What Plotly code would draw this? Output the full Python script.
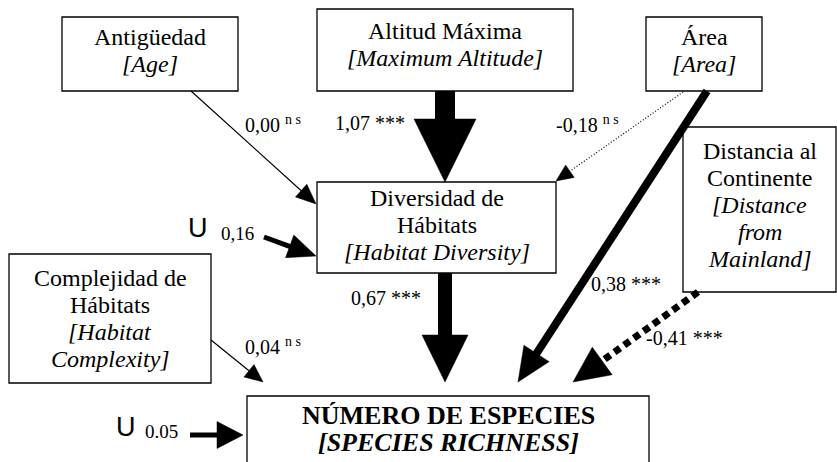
import numpy as np
import plotly.graph_objects as go

# ---------------- data ----------------
var_es = ["Antigüedad", "Altitud Máxima", "Área", "Distancia al<br>Continente",
          "Diversidad de<br>Hábitats", "Complejidad de<br>Hábitats", "NÚMERO DE ESPECIES"]
var_en = ["[Age]", "[Maximum Altitude]", "[Area]", "[Distance<br>from<br>Mainland]",
          "[Habitat Diversity]", "[Habitat<br>Complexity]", "[SPECIES RICHNESS]"]

path_coef = [0.00, 1.07, -0.18, 0.38, -0.41, 0.67, 0.04]
path_sig = ["n s", "***", "n s", "***", "***", "***", "n s"]
resid_coef = [0.16, 0.05]
resid_sep = [",", "."]

# ---------------- layout (positions / styles) ----------------
W, H = 837, 462
boxes = [  # x0, x1, y0, y1, first line y
    (62, 238, 17, 91, 37),
    (317, 573, 9, 91, 31),
    (646, 762, 17, 91, 37),
    (683, 836, 127, 292, 151),
    (317, 556, 182, 273, 198),
    (9, 211, 254, 383, 278),
    (247, 649, 396, 475, 415),
]
box_font = [24, 24, 24, 24, 24, 24, 26]
line_gap = 27
# arrows: start, tip, shaft width, head length, head width, dash
arrows = [
    ((191, 91), (316, 204), 1.2, 20, 17, None),
    ((445, 91), (445, 182), 20, 63, 62, None),
    ((683, 92), (556, 181), 1.2, 17, 15, "1px,2px"),
    ((707, 91), (518, 382), 8, 34, 30, None),
    ((698, 292), (573, 382), 7, 36, 34, "7px,5px"),
    ((445, 273), (445, 382), 14, 47, 46, None),
    ((211, 340), (263, 382), 1.2, 18, 16, None),
]
resid_arrows = [
    ((264, 237), (316, 256), 5, 28, 24, None),
    ((190, 435), (243, 435), 5, 26, 27, None),
]
coef_pos = [(273, 124), (370, 123), (587, 124), (626, 284), (684, 338), (386, 298), (273, 346)]
resid_u_pos = [(198, 228), (126, 427)]
resid_val_pos = [(237, 233), (161, 431)]

SERIF = "Liberation Serif, Times New Roman, serif"
SANS = "Liberation Sans, Arial, sans-serif"

fig = go.Figure()


def draw_arrow(p0, p1, sw, hl, hw, dash):
    p0 = np.array(p0, float)
    p1 = np.array(p1, float)
    d = p1 - p0
    u = d / np.hypot(*d)
    n = np.array([-u[1], u[0]])
    base = p1 - hl * u
    shaft_end = p1 - (hl - 2) * u
    fig.add_trace(go.Scatter(x=[p0[0], shaft_end[0]], y=[p0[1], shaft_end[1]], mode="lines",
                             line=dict(color="black", width=sw, dash=dash or "solid"),
                             hoverinfo="skip", showlegend=False))
    tri = [p1, base + n * hw / 2, base - n * hw / 2, p1]
    fig.add_trace(go.Scatter(x=[p[0] for p in tri], y=[p[1] for p in tri], mode="lines",
                             fill="toself", fillcolor="black", line=dict(color="black", width=0.5),
                             hoverinfo="skip", showlegend=False))


for a in arrows + resid_arrows:
    draw_arrow(*a)

shapes = []
annotations = []
for i, (x0, x1, y0, y1, ty) in enumerate(boxes):
    shapes.append(dict(type="rect", xref="x", yref="y", x0=x0, x1=x1, y0=y0, y1=y1,
                       line=dict(color="black", width=1.3), fillcolor="rgba(0,0,0,0)"))
    bold = i == len(boxes) - 1
    lines = [(t, False) for t in var_es[i].split("<br>")] + [(t, True) for t in var_en[i].split("<br>")]
    for k, (t, it) in enumerate(lines):
        txt = t
        if bold:
            txt = "<b>" + txt + "</b>"
        if it:
            txt = "<i>" + txt + "</i>"
        annotations.append(dict(x=(x0 + x1) / 2, y=ty + k * line_gap, text=txt, showarrow=False,
                                xref="x", yref="y", xanchor="center", yanchor="middle",
                                font=dict(family=SERIF, size=box_font[i], color="black")))


def fmt(v, sep=","):
    return f"{v:.2f}".replace(".", sep)


for (x, y), c, s in zip(coef_pos, path_coef, path_sig):
    if s == "n s":
        txt = fmt(c) + " <sup>n s</sup>"
    else:
        txt = fmt(c) + " " + s
    annotations.append(dict(x=x, y=y, text=txt, showarrow=False, xref="x", yref="y",
                            xanchor="center", yanchor="middle",
                            font=dict(family=SERIF, size=20, color="black")))

for (ux, uy), (vx, vy), c, sep in zip(resid_u_pos, resid_val_pos, resid_coef, resid_sep):
    annotations.append(dict(x=ux, y=uy, text="U", showarrow=False, xref="x", yref="y",
                            xanchor="center", yanchor="middle",
                            font=dict(family=SANS, size=27, color="black")))
    annotations.append(dict(x=vx, y=vy, text=fmt(c, sep), showarrow=False, xref="x", yref="y",
                            xanchor="center", yanchor="middle",
                            font=dict(family=SERIF, size=19, color="black")))

fig.update_layout(
    width=W, height=H, margin=dict(l=0, r=0, t=0, b=0),
    paper_bgcolor="white", plot_bgcolor="white",
    xaxis=dict(range=[0, W], visible=False, fixedrange=True),
    yaxis=dict(range=[H, 0], visible=False, fixedrange=True),
    shapes=shapes, annotations=annotations, showlegend=False,
)

fig.write_html("out.html", config={"displayModeBar": False},
               post_script="document.body.style.margin='0';document.body.style.overflow='hidden';")
